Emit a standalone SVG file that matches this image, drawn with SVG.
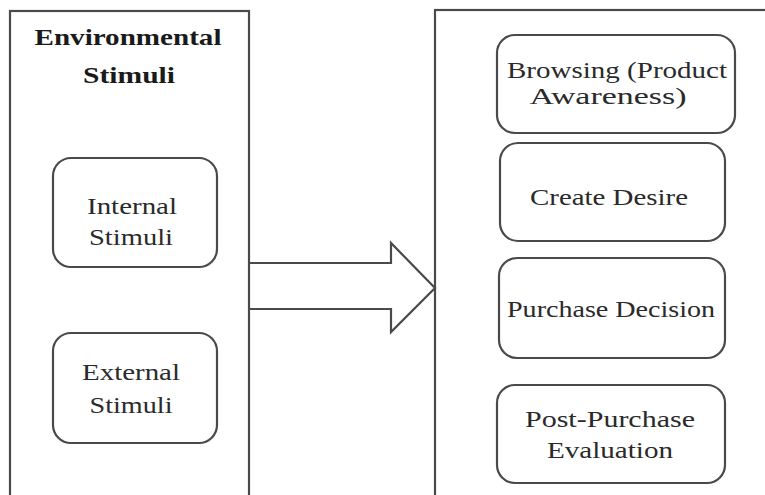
<svg xmlns="http://www.w3.org/2000/svg" width="765" height="495" viewBox="0 0 765 495">
<style>
.frame{fill:none;stroke:#4a4a4a;stroke-width:2.2}
.box{fill:#fff;stroke:#4a4a4a;stroke-width:2.2}
.t{font-family:"Liberation Serif","DejaVu Serif",serif;font-size:24px;fill:#2a2a2a;text-anchor:middle}
.b{font-weight:bold;fill:#1a1a1a}
</style>
<rect width="765" height="495" fill="#fff"/>
<g id="environmental-stimuli">
<rect class="frame" x="10" y="11" width="239" height="500"/>
<text class="t b" x="128" y="45" textLength="187" lengthAdjust="spacingAndGlyphs">Environmental</text>
<text class="t b" x="129" y="83" textLength="92" lengthAdjust="spacingAndGlyphs">Stimuli</text>
</g>
<g id="internal-stimuli">
<rect class="box" x="53" y="158" width="164" height="109" rx="18"/>
<text class="t" x="132" y="214" textLength="90" lengthAdjust="spacingAndGlyphs">Internal</text>
<text class="t" x="131" y="245" textLength="84" lengthAdjust="spacingAndGlyphs">Stimuli</text>
</g>
<g id="external-stimuli">
<rect class="box" x="53" y="333" width="164" height="110" rx="18"/>
<text class="t" x="131" y="380" textLength="98" lengthAdjust="spacingAndGlyphs">External</text>
<text class="t" x="131" y="413" textLength="83" lengthAdjust="spacingAndGlyphs">Stimuli</text>
</g>
<g id="connectors">
<path class="frame" fill="#fff" d="M250,263 H391 V243 L435,288 L391,332 V309 H250"/>
</g>
<g id="consumer-process">
<rect class="frame" x="435" y="10" width="340" height="500"/>
</g>
<g id="browsing">
<rect class="box" x="497" y="35" width="238" height="98" rx="18"/>
<text class="t" x="617" y="78" textLength="220" lengthAdjust="spacingAndGlyphs">Browsing (Product</text>
<text class="t" x="608" y="104" textLength="157" lengthAdjust="spacingAndGlyphs">Awareness)</text>
</g>
<g id="create-desire">
<rect class="box" x="500" y="143" width="225" height="98" rx="18"/>
<text class="t" x="609" y="205" textLength="158" lengthAdjust="spacingAndGlyphs">Create Desire</text>
</g>
<g id="purchase-decision">
<rect class="box" x="499" y="258" width="226" height="100" rx="18"/>
<text class="t" x="611" y="317" textLength="208" lengthAdjust="spacingAndGlyphs">Purchase Decision</text>
</g>
<g id="post-purchase">
<rect class="box" x="497" y="385" width="228" height="98" rx="18"/>
<text class="t" x="610" y="427" textLength="170" lengthAdjust="spacingAndGlyphs">Post-Purchase</text>
<text class="t" x="610" y="458" textLength="126" lengthAdjust="spacingAndGlyphs">Evaluation</text>
</g>
</svg>
